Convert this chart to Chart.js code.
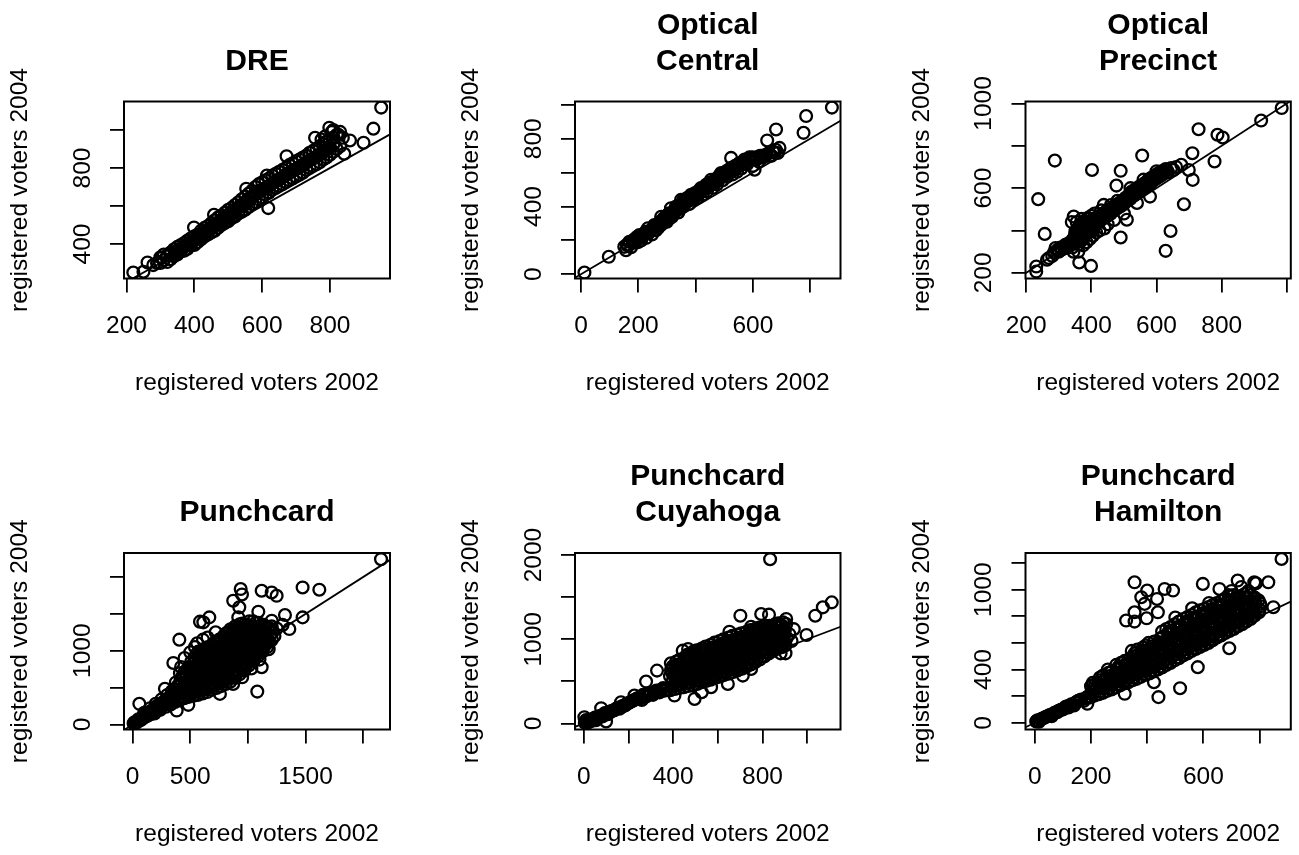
<!DOCTYPE html>
<html>
<head>
<meta charset="utf-8">
<script src="https://cdn.jsdelivr.net/npm/chart.js@4.4.1/dist/chart.umd.min.js"></script>
<style>
  body { margin: 0; background: #fff; width: 1299px; height: 855px; position: relative; overflow: hidden; }
  canvas { position: absolute; }
</style>
</head>
<body>
<script>
// Axis titles shared by all panels
const xAxisTitle = 'registered voters 2002';
const yAxisTitle = 'registered voters 2004';

// ---- DRE ----
const dreTitle = ['DRE'];
const dreXTicks = [200, 400, 600, 800];
const dreXLabels = [200, 400, 600, 800];
const dreYTicks = [400, 600, 800, 1000];
const dreYLabels = [400, 800];
const drePoints = [
  [220,250],[250,254],[262,303],[279,289],[290,300],[304,328],
  [300,300],[300,330],[310,315],[310,345],[320,305],[320,340],[330,320],[330,355],[330,345],
  [340,335],[340,372],[350,350],[350,385],[350,345],[360,360],[360,395],[370,365],[370,405],[370,385],
  [380,375],[380,418],[390,395],[390,430],[390,410],[400,395],[400,440],[400,420],[410,410],[410,450],
  [410,430],[420,425],[420,470],[420,445],[430,440],[430,485],[430,460],[440,450],[440,495],[440,470],
  [450,460],[450,510],[450,485],[460,470],[460,525],[460,495],[470,485],[470,540],[470,510],[480,500],
  [480,550],[480,525],[490,510],[490,565],[490,540],[500,520],[500,580],[500,550],[510,535],[510,590],
  [510,565],[520,545],[520,605],[520,575],[530,560],[530,620],[530,590],[540,570],[540,635],[540,600],
  [550,580],[550,650],[550,615],[560,595],[560,665],[560,630],[570,610],[570,680],[570,645],[580,620],
  [580,700],[580,660],[590,635],[590,715],[590,675],[600,645],[600,725],[600,685],[610,660],[610,735],
  [610,695],[620,670],[620,745],[620,705],[630,685],[630,760],[630,720],[640,695],[640,770],[640,730],
  [650,705],[650,780],[650,740],[660,715],[660,790],[660,750],[670,725],[670,800],[670,765],[680,735],
  [680,815],[680,775],[690,745],[690,825],[690,785],[700,755],[700,835],[700,795],[710,765],[710,845],
  [710,805],[720,775],[720,855],[720,815],[730,790],[730,865],[730,830],[740,800],[740,880],[740,840],
  [750,810],[750,890],[750,850],[760,820],[760,900],[760,860],[770,830],[770,915],[770,870],[780,845],
  [780,925],[780,885],[790,855],[790,940],[790,900],[800,870],[800,950],[800,910],[810,885],[810,960],
  [810,925],[820,900],[820,975],[830,915],[830,990],
  [345,360],[355,370],[365,380],[375,395],[385,405],[395,420],[405,430],[415,445],[425,455],[435,470],
  [445,480],[455,495],[465,505],[475,520],[485,530],[495,545],[505,560],[515,570],[525,585],[535,600],
  [545,610],[555,625],[565,640],[575,655],[585,668],[595,680],[605,690],[615,700],[625,712],[635,725],
  [645,735],[655,745],[665,758],[675,770],[685,780],[695,790],[705,800],[715,810],[725,822],[735,835],
  [745,845],[755,855],[765,865],[775,878],[785,890],[795,905],
  [399,487],[458,554],[553,691],[618,589],[614,760],[672,862],[756,959],[798,1012],[838,959],[842,875],
  [859,945],[899,933],[928,1007],[951,1118],[810,1000],[825,975],[805,990],[785,965],[775,950]
];

// ---- Optical Central ----
const centralTitle = ['Optical', 'Central'];
const centralXTicks = [0, 200, 400, 600, 800];
const centralXLabels = [0, 200, 600];
const centralYTicks = [0, 200, 400, 600, 800, 1000];
const centralYLabels = [0, 400, 800];
const centralPoints = [
  [12,10],[97,103],[151,162],[157,142],[160,175],[169,192],[175,160],[190,195],[198,210],[204,232],
  [210,200],[215,225],[222,240],[228,215],[233,271],[240,250],[248,235],[256,291],[262,260],[265,285],
  [270,275],[280,340],[285,300],[292,320],[295,335],[300,310],[305,355],[310,330],[314,390],[318,340],
  [325,370],[332,400],[335,380],[340,365],[345,410],[349,439],[355,400],[358,440],[362,425],[370,450],
  [372,430],[378,415],[384,469],[388,460],[390,440],[398,480],[402,465],[405,450],[412,495],[415,480],
  [419,509],[425,470],[428,500],[432,520],[440,490],[445,520],[448,540],[454,558],[458,530],[460,510],
  [468,560],[472,545],[475,530],[482,580],[488,570],[489,598],[495,555],[500,580],[502,600],[510,575],
  [515,600],[518,620],[524,627],[524,687],[530,590],[535,615],[538,640],[545,605],[552,655],[555,640],
  [560,625],[571,677],[575,660],[580,650],[588,690],[594,677],[600,640],[606,617],[612,690],[620,665],
  [630,700],[641,697],[650,790],[660,700],[670,725],[681,855],[687,716],[693,746],[777,835],[786,934],
  [876,984],
  [165,168],[180,185],[185,205],[195,220],[200,190],[208,215],[218,230],[225,250],[235,245],[244,262],
  [252,270],[258,280],[268,295],[275,310],[278,290],[288,330],[298,345],[302,325],[308,360],[312,345],
  [320,365],[328,385],[338,395],[342,390],[352,420],[360,410],[365,435],[375,440],[380,455],[392,470],
  [395,455],[408,485],[410,470],[422,500],[435,505],[438,530],[450,525],[462,545],[465,550],[478,565],
  [485,585],[492,590],[505,590],[508,610],[520,605],[528,630],[540,625],[548,645],[558,650],[565,665],
  [585,670],[598,690],[615,680],[625,700],[635,690],[645,705],[655,715],[665,700],[675,720],[680,735]
];

// ---- Optical Precinct ----
const precinctTitle = ['Optical', 'Precinct'];
const precinctXTicks = [200, 400, 600, 800, 1000];
const precinctXLabels = [200, 400, 600, 800];
const precinctYTicks = [200, 400, 600, 800, 1000];
const precinctYLabels = [200, 600, 1000];
const precinctPoints = [
  [231,206],[231,230],[237,548],[257,384],[264,262],[270,270],[280,280],[285,295],[288,730],[290,317],
  [295,305],[300,300],[305,320],[310,310],[315,325],[320,332],[325,318],[330,340],[335,330],[340,350],
  [342,320],[345,362],[346,466],[348,340],[350,380],[351,395],[355,355],[358,410],[360,335],[362,372],
  [363,249],[365,430],[368,350],[370,392],[372,420],[375,365],[378,445],[380,380],[383,405],[386,425],
  [390,390],[393,455],[396,410],[399,233],[400,430],[402,400],[402,686],[405,445],[410,420],[414,460],
  [418,435],[422,445],[426,470],[430,450],[435,480],[438,521],[440,460],[445,490],[450,470],[455,500],
  [460,480],[465,510],[470,495],[475,520],[477,612],[480,505],[485,530],[490,515],[490,682],[490,367],
  [495,540],[500,525],[505,555],[509,451],[510,540],[515,565],[519,577],[520,550],[525,585],[530,565],
  [535,595],[540,575],[545,605],[550,585],[555,615],[556,754],[560,600],[565,625],[570,610],[575,640],
  [580,620],[585,650],[590,635],[595,660],[600,645],[605,670],[610,655],[615,680],[620,665],[628,690],
  [628,304],[635,675],[643,398],[645,695],[652,686],[660,700],[676,710],[684,524],[699,686],[710,765],
  [711,639],[729,878],[778,726],[787,852],[803,839],[921,919],[984,978],
  [298,310],[308,315],[318,320],[328,335],[338,345],[344,355],[352,365],[356,385],[360,360],[364,400],
  [366,420],[370,375],[374,405],[377,390],[380,430],[382,395],[385,415],[388,440],[390,410],[392,425],
  [395,440],[398,420],[402,450],[406,430],[408,455],[412,440],[416,450],[420,455],[424,460],[428,465],
  [432,470],[438,475],[442,480],[448,485],[452,490],[458,495],[462,500],[468,505],[472,510],[478,515],
  [482,520],[488,525],[492,530],[498,535],[502,540],[508,545],[512,555],[518,560],[522,565],[528,575],
  [532,580],[538,585],[542,590],[548,595],[552,600],[558,610],[562,612],[568,620],[572,625],[578,630],
  [582,635],[588,640],[592,648],[598,652],[602,658],[608,662],[612,668],[618,672],[622,678],[632,685],
  [340,440],[345,300],[355,440],[360,300],[370,455],[375,330],[385,345],[390,460],[395,360],[400,470],
  [405,375],[410,480],[415,390],[425,400],[430,495],[440,410],[450,430],[460,520],[470,450],[480,540],
  [500,480],[520,600],[540,530],[560,640],[580,560],[600,680]
];

// ---- Punchcard ----
const punchTitle = ['Punchcard'];
const punchXTicks = [0, 500, 1000, 1500, 2000];
const punchXLabels = [0, 500, 1500];
const punchYTicks = [0, 500, 1000, 1500, 2000];
const punchYLabels = [0, 1000];
const punchPoints = [
  [8,12],[20,25],[30,20],[42,45],[55,50],[58,280],[65,75],[78,70],[90,100],[100,95],[115,130],[125,115],
  [140,150],[155,140],[170,190],[185,170],[200,215],[215,240],[230,200],[245,280],[260,250],[275,310],
  [280,483],[290,270],[305,350],[320,300],[335,390],[350,330],
  [15,30],[35,35],[50,70],[70,60],[85,85],[105,110],[120,140],[135,125],[150,175],[165,160],[180,205],
  [195,190],[210,250],[225,220],[240,260],[255,295],[270,285],[285,330],[300,310],[315,360],[330,340],
  [345,380],[360,350],[100,160],[150,220],[200,280],[250,340],[300,400],[340,450],[190,150],[240,200],
  [290,240],[330,270],
  [368,305],[372,390],[366,480],[375,570],
  [405,330],[412,420],[408,515],[415,605],[410,695],
  [448,355],[455,445],[450,535],[445,625],[452,715],
  [488,375],[494,465],[486,555],[492,645],[497,730],[490,780],
  [528,390],[534,475],[526,565],[532,655],[538,745],[530,830],[535,900],
  [565,400],[572,490],[568,580],[575,670],[566,760],[572,850],[578,940],[570,990],
  [608,420],[614,510],[606,600],[612,690],[618,780],[610,870],[615,955],[612,1020],
  [648,440],[655,530],[646,620],[652,710],[658,800],[650,890],[645,975],[652,1050],
  [688,470],[694,560],[686,650],[692,740],[698,830],[690,920],[695,1005],[690,1085],
  [728,495],[735,585],[726,675],[732,765],[738,855],[730,945],[725,1035],[732,1125],
  [768,520],[774,610],[766,700],[772,790],[778,880],[770,970],[765,1060],[772,1165],
  [808,550],[814,640],[806,730],[812,820],[818,910],[810,1000],[805,1090],[812,1180],[808,1235],
  [848,580],[854,670],[846,760],[852,850],[858,940],[850,1030],[845,1120],[852,1210],[848,1290],
  [888,630],[894,720],[886,810],[892,900],[898,990],[890,1080],[885,1170],[892,1260],[888,1330],
  [928,680],[934,770],[926,860],[932,950],[938,1040],[930,1130],[925,1220],[932,1300],[928,1360],
  [968,730],[974,820],[966,910],[972,1000],[978,1090],[970,1180],[965,1270],[972,1360],
  [1008,800],[1014,890],[1006,980],[1012,1070],[1018,1160],[1010,1250],[1005,1340],[1012,1400],
  [1048,860],[1054,950],[1046,1040],[1052,1130],[1058,1220],[1050,1310],[1045,1400],
  [1088,930],[1094,1020],[1086,1110],[1092,1200],[1098,1290],[1090,1380],
  [1128,990],[1134,1080],[1126,1170],[1132,1260],[1138,1350],
  [1168,1050],[1174,1140],[1166,1230],[1172,1320],
  [1208,1150],[1214,1250],[1206,1330],
  [390,350],[388,435],[392,525],
  [428,375],[432,470],[426,560],[430,650],
  [468,400],[472,490],[466,580],[470,670],[474,750],
  [508,420],[512,510],[506,600],[510,690],[514,775],[508,850],
  [548,440],[552,530],[546,620],[550,710],[554,800],[548,880],[552,950],
  [588,455],[592,545],[586,635],[590,725],[594,815],[588,905],[592,985],
  [628,475],[632,565],[626,655],[630,745],[634,835],[628,920],[632,1005],
  [668,500],[672,590],[666,680],[670,770],[674,860],[668,950],[672,1040],
  [708,525],[712,615],[706,705],[710,795],[714,885],[708,975],[712,1060],[710,1110],
  [748,555],[752,645],[746,735],[750,825],[754,915],[748,1005],[752,1095],[750,1150],
  [788,580],[792,670],[786,760],[790,850],[794,940],[788,1030],[792,1120],[790,1200],
  [828,615],[832,705],[826,795],[830,885],[834,975],[828,1065],[832,1155],[830,1250],
  [868,650],[872,740],[866,830],[870,920],[874,1010],[868,1100],[872,1190],[870,1280],
  [908,700],[912,790],[906,880],[910,970],[914,1060],[908,1150],[912,1240],[910,1320],
  [948,750],[952,840],[946,930],[950,1020],[954,1110],[948,1200],[952,1290],[950,1370],
  [988,810],[992,900],[986,990],[990,1080],[994,1170],[988,1260],[992,1350],
  [1028,880],[1032,970],[1026,1060],[1030,1150],[1034,1240],[1028,1330],
  [1068,940],[1072,1030],[1066,1120],[1070,1210],[1074,1300],[1068,1380],
  [1108,1000],[1112,1090],[1106,1180],[1110,1270],[1114,1350],
  [1148,1070],[1152,1160],[1146,1250],[1150,1330],
  [1188,1120],[1192,1210],[1186,1300],
  [2154,2241],[1474,1858],[1619,1827],[937,1836],[948,1763],[872,1678],[1119,1813],[1206,1790],[1249,1745],
  [1090,1529],[1321,1484],[1474,1452],[1359,1294],[1206,1407],[665,1452],[584,1394],[613,1385],[405,1150],
  [353,834],[1081,446],[1119,776],[757,415],[872,550],[382,189],[483,266],[916,1452],[925,1588],
  [500,980],[560,1100],[650,1180],[720,1250],[450,900],[420,780],[610,1150],[540,1050],
  [1180,1020],[1230,1200],[1250,1300],[1300,1350],[1100,880],[1030,760],[950,640]
];

// ---- Punchcard Cuyahoga ----
const cuyTitle = ['Punchcard', 'Cuyahoga'];
const cuyXTicks = [0, 200, 400, 600, 800, 1000];
const cuyXLabels = [0, 400, 800];
const cuyYTicks = [0, 500, 1000, 1500, 2000];
const cuyYLabels = [0, 1000, 2000];
const cuyPoints = [
  [5,10],[12,25],[20,15],[28,45],[35,30],[45,60],[3,75],[55,40],[65,80],[78,182],[80,95],[90,110],
  [100,24],[100,120],[115,135],[125,150],[140,165],[155,190],[167,253],[175,210],[190,230],[205,250],
  [220,270],[227,332],[235,290],[250,310],[260,280],[265,340],[279,498],[280,320],[295,360],[310,340],
  [328,628],[325,390],[340,370],[355,420],[370,400],[391,628],
  [10,40],[25,20],[40,50],[50,70],[60,55],[70,90],[85,85],[95,125],[108,110],[120,140],[135,155],
  [148,180],[160,175],[172,200],[185,215],[198,240],[212,260],[225,280],[240,300],[255,300],[270,330],
  [285,345],[300,350],[315,370],[330,380],[345,400],[360,390],[375,410],
  [388,395],[394,480],[386,560],[392,640],[390,715],
  [428,420],[434,505],[426,590],[432,675],[430,760],
  [468,445],[474,530],[466,615],[472,700],[470,785],[465,820],
  [508,470],[514,555],[506,640],[512,725],[510,810],[505,870],
  [548,505],[554,590],[546,675],[552,760],[550,845],[545,915],
  [588,540],[594,625],[586,710],[592,795],[590,880],[585,960],
  [628,575],[634,660],[626,745],[632,830],[630,915],[625,1000],
  [668,610],[674,695],[666,780],[672,865],[670,950],[665,1040],
  [708,650],[714,735],[706,820],[712,905],[710,990],[705,1070],
  [748,700],[754,785],[746,870],[752,955],[750,1040],[745,1110],
  [788,760],[794,845],[786,930],[792,1015],[790,1100],[785,1140],
  [828,830],[834,915],[826,1000],[832,1085],[830,1160],
  [868,890],[874,975],[866,1060],[872,1145],[870,1190],
  [903,930],[908,1015],[900,1100],[906,1180],
  [408,410],[412,495],[406,575],[410,660],[414,735],
  [448,430],[452,515],[446,600],[450,690],[454,775],
  [488,455],[492,540],[486,625],[490,710],[494,795],[488,850],
  [528,490],[532,575],[526,660],[530,745],[534,830],[528,890],
  [568,520],[572,605],[566,690],[570,775],[574,860],[568,935],
  [608,555],[612,640],[606,725],[610,810],[614,895],[608,980],
  [648,590],[652,675],[646,760],[650,845],[654,930],[648,1020],
  [688,630],[692,715],[686,800],[690,885],[694,970],[688,1055],
  [728,675],[732,760],[726,845],[730,930],[734,1015],[728,1090],
  [768,730],[772,815],[766,900],[770,985],[774,1070],[768,1125],
  [808,795],[812,880],[806,965],[810,1050],[814,1135],[808,1160],
  [848,860],[852,945],[846,1030],[850,1115],[854,1175],
  [886,905],[890,990],[884,1075],[888,1160],[892,1200],
  [398,437],[400,520],[396,600],[399,680],
  [438,462],[440,548],[436,632],[439,718],
  [478,487],[480,573],[476,657],[479,743],[477,810],
  [518,512],[520,598],[516,683],[519,768],[517,850],
  [558,547],[560,633],[556,718],[559,803],[557,885],
  [598,582],[600,668],[596,753],[599,838],[597,920],
  [638,617],[640,703],[636,788],[639,873],[637,958],
  [678,652],[680,738],[676,823],[679,908],[677,995],
  [718,692],[720,778],[716,863],[719,948],[717,1030],
  [758,742],[760,828],[756,913],[759,998],[757,1080],
  [798,800],[800,888],[796,973],[799,1058],[797,1130],
  [838,868],[840,953],[836,1038],[839,1123],
  [878,920],[880,1005],[876,1090],[879,1170],
  [418,455],[420,540],[416,620],[419,700],
  [458,480],[460,565],[456,645],[459,730],[457,800],
  [498,505],[500,590],[496,670],[499,755],[497,830],
  [538,535],[540,620],[536,705],[539,790],[537,870],
  [578,570],[580,655],[576,740],[579,825],[577,905],
  [618,605],[620,690],[616,775],[619,860],[617,945],
  [658,640],[660,725],[656,810],[659,895],[657,985],
  [698,680],[700,765],[696,850],[699,935],[697,1020],
  [738,725],[740,810],[736,895],[739,980],[737,1065],
  [778,785],[780,870],[776,955],[779,1040],[777,1115],
  [818,850],[820,935],[816,1020],[819,1105],
  [858,895],[860,980],[856,1065],[859,1150],
  [895,950],[897,1040],[893,1120],
  [834,1951],[1110,1438],[1070,1379],[1036,1280],[997,1051],[701,1280],[794,1300],[829,1292],[906,1241],
  [749,1149],[652,1090],[443,865],[467,885],[881,833],[903,833],[406,332],[496,292],[528,371],[570,431],
  [645,470],[712,569],[749,648],[920,1060],[940,1120],[930,980]
];

// ---- Punchcard Hamilton ----
const hamTitle = ['Punchcard', 'Hamilton'];
const hamXTicks = [0, 200, 400, 600, 800];
const hamXLabels = [0, 200, 600];
const hamYTicks = [0, 200, 400, 600, 800, 1000, 1200];
const hamYLabels = [0, 400, 1000];
const hamPoints = [
  [5,10],[10,20],[15,8],[20,25],[30,35],[40,45],[50,55],[60,50],[70,75],[80,80],[90,95],[100,100],
  [110,120],[120,115],[130,140],[140,130],[150,160],[160,170],[175,165],[187,143],[190,200],
  [8,15],[25,30],[35,40],[45,50],[55,60],[65,65],[75,80],[85,90],[95,100],[105,110],[115,125],
  [125,130],[135,140],[145,150],[155,165],[165,175],[180,185],
  [198,190],[204,230],[200,275],[206,300],
  [228,215],[234,260],[226,300],[232,340],
  [258,240],[264,285],[256,330],[262,375],
  [288,265],[294,310],[286,355],[292,400],[290,435],
  [318,295],[324,340],[316,385],[322,430],[320,465],
  [348,320],[354,365],[346,410],[352,455],[350,500],[345,540],
  [378,345],[384,390],[376,435],[382,480],[380,525],[385,565],
  [408,370],[414,415],[406,460],[412,505],[410,550],[405,600],
  [438,400],[444,445],[436,490],[442,535],[440,580],[445,630],
  [468,435],[474,480],[466,525],[472,570],[470,615],[475,665],[468,705],
  [498,470],[504,515],[496,560],[502,605],[500,650],[505,700],[498,740],
  [528,505],[534,550],[526,595],[532,640],[530,685],[535,735],[528,780],
  [558,540],[564,585],[556,630],[562,675],[560,720],[565,770],[558,810],
  [588,570],[594,615],[586,660],[592,705],[590,750],[595,800],[588,845],
  [618,600],[624,645],[616,690],[622,735],[620,780],[625,830],[618,870],
  [648,640],[654,685],[646,730],[652,775],[650,820],[655,865],[648,900],
  [678,675],[684,720],[676,765],[682,810],[680,855],[685,900],[678,935],
  [708,705],[714,750],[706,795],[712,840],[710,885],[715,930],[708,960],
  [738,740],[744,785],[736,830],[742,875],[740,920],[745,965],
  [768,780],[774,825],[766,870],[772,915],[770,960],
  [798,830],[804,875],[796,920],
  [213,205],[217,250],[215,290],
  [243,225],[247,270],[245,315],[243,355],
  [273,250],[277,295],[275,340],[273,385],
  [303,280],[307,325],[305,370],[303,415],[307,450],
  [333,305],[337,350],[335,395],[333,440],[337,480],
  [363,330],[367,375],[365,420],[363,465],[367,510],[365,550],
  [393,360],[397,405],[395,450],[393,495],[397,540],[395,580],
  [423,385],[427,430],[425,475],[423,520],[427,565],[425,610],
  [453,415],[457,460],[455,505],[453,550],[457,595],[455,645],[453,685],
  [483,450],[487,495],[485,540],[483,585],[487,630],[485,680],[483,720],
  [513,485],[517,530],[515,575],[513,620],[517,665],[515,715],[513,760],
  [543,520],[547,565],[545,610],[543,655],[547,700],[545,750],[543,795],
  [573,555],[577,600],[575,645],[573,690],[577,735],[575,785],[573,830],
  [603,585],[607,630],[605,675],[603,720],[607,765],[605,815],[603,855],
  [633,620],[637,665],[635,710],[633,755],[637,800],[635,850],[633,885],
  [663,655],[667,700],[665,745],[663,790],[667,835],[665,880],[663,915],
  [693,690],[697,735],[695,780],[693,825],[697,870],[695,915],[693,950],
  [723,725],[727,770],[725,815],[723,860],[727,905],[725,950],
  [753,760],[757,805],[755,850],[753,895],[757,940],[755,975],
  [783,805],[787,850],[785,895],[783,940],
  [205,212],[207,255],
  [235,238],[237,282],[235,322],
  [265,262],[267,308],[265,352],
  [295,288],[297,332],[295,378],[297,418],
  [325,318],[327,362],[325,408],[327,448],
  [355,342],[357,388],[355,432],[357,478],[355,520],
  [385,368],[387,412],[385,458],[387,502],[385,545],
  [415,392],[417,438],[415,482],[417,528],[415,575],
  [445,422],[447,468],[445,512],[447,558],[445,605],
  [475,458],[477,502],[475,548],[477,592],[475,640],[477,685],
  [505,492],[507,538],[505,582],[507,628],[505,675],[507,720],
  [535,528],[537,572],[535,618],[537,662],[535,710],[537,758],
  [565,562],[567,608],[565,652],[567,698],[565,745],[567,790],
  [595,592],[597,638],[595,682],[597,728],[595,775],[597,822],
  [625,628],[627,672],[625,718],[627,762],[625,808],[627,850],
  [655,662],[657,708],[655,752],[657,798],[655,842],[657,885],
  [685,698],[687,742],[685,788],[687,832],[685,878],[687,918],
  [715,728],[717,772],[715,818],[717,862],[715,905],[717,945],
  [745,765],[747,808],[745,852],[747,898],[745,940],
  [775,800],[777,845],[775,890],[777,935],
  [800,850],[802,895],
  [878,1230],[355,1055],[400,993],[379,943],[462,1005],[492,993],[435,930],[391,893],[438,830],[355,830],
  [398,785],[325,768],[355,760],[598,1043],[657,1005],[722,1068],[781,1055],[831,1055],[787,1048],[849,868],
  [692,560],[580,418],[517,260],[440,193],[424,305],[320,218],[260,400],[204,280],[735,1020],[760,990],
  [700,990],[690,960],[620,900],[560,860],[500,790]
];

// Panel layout: plot box [left, top, right, bottom] in page pixels, canvas origin
const panels = [
  { title: dreTitle, points: drePoints, xRange: [192.6, 977], yRange: [218.5, 1150],
    xTicks: dreXTicks, xLabels: dreXLabels, yTicks: dreYTicks, yLabels: dreYLabels,
    box: [124, 101.5, 390, 278.5], origin: [0, 0] },
  { title: centralTitle, points: centralPoints, xRange: [-21, 906], yRange: [-25, 1020],
    xTicks: centralXTicks, xLabels: centralXLabels, yTicks: centralYTicks, yLabels: centralYLabels,
    box: [575, 101.5, 840.5, 278.5], origin: [433, 0] },
  { title: precinctTitle, points: precinctPoints, xRange: [198, 1012], yRange: [173.5, 1009],
    xTicks: precinctXTicks, xLabels: precinctXLabels, yTicks: precinctYTicks, yLabels: precinctYLabels,
    box: [1025.5, 101.5, 1291.5, 278.5], origin: [866, 0] },
  { title: punchTitle, points: punchPoints, xRange: [-75, 2232], yRange: [-68, 2325],
    xTicks: punchXTicks, xLabels: punchXLabels, yTicks: punchYTicks, yLabels: punchYLabels,
    box: [124, 553, 390, 729.5], origin: [0, 427] },
  { title: cuyTitle, points: cuyPoints, xRange: [-39, 1149], yRange: [-71, 2024],
    xTicks: cuyXTicks, xLabels: cuyXLabels, yTicks: cuyYTicks, yLabels: cuyYLabels,
    box: [575, 553, 840.5, 729.5], origin: [433, 427] },
  { title: hamTitle, points: hamPoints, xRange: [-33, 911], yRange: [-50, 1275],
    xTicks: hamXTicks, xLabels: hamXLabels, yTicks: hamYTicks, yLabels: hamYLabels,
    box: [1025.5, 553, 1291.5, 729.5], origin: [866, 427] }
];

const CANVAS_W = 433, CANVAS_H = 428;
const FONT = '"Liberation Sans", Arial, Helvetica, sans-serif';

// Draws the R-style box, tick labels, axis titles and main title
const rDecor = {
  id: 'rDecor',
  afterDraw(chart, args, opts) {
    const ctx = chart.ctx;
    const a = chart.chartArea;
    const xs = chart.scales.x, ys = chart.scales.y;
    const cx = (a.left + a.right) / 2, cy = (a.top + a.bottom) / 2;
    ctx.save();
    ctx.strokeStyle = '#000';
    ctx.lineWidth = 2;
    ctx.strokeRect(a.left, a.top, a.right - a.left, a.bottom - a.top);

    ctx.fillStyle = '#000';
    ctx.font = '24.5px ' + FONT;
    ctx.textAlign = 'center';
    ctx.textBaseline = 'alphabetic';
    opts.xLabels.forEach(v => ctx.fillText(String(v), xs.getPixelForValue(v), a.bottom + 54.5));
    ctx.fillText(opts.xTitle, cx, a.bottom + 111.5);

    opts.yLabels.forEach(v => {
      ctx.save();
      ctx.translate(a.left - 34.5, ys.getPixelForValue(v));
      ctx.rotate(-Math.PI / 2);
      ctx.fillText(String(v), 0, 0);
      ctx.restore();
    });
    ctx.save();
    ctx.translate(a.left - 97, cy);
    ctx.rotate(-Math.PI / 2);
    ctx.fillText(opts.yTitle, 0, 0);
    ctx.restore();

    ctx.font = 'bold 30px ' + FONT;
    const n = opts.title.length;
    opts.title.forEach((t, i) => ctx.fillText(t, cx, a.top - 32 - (n - 1 - i) * 36));
    ctx.restore();
  }
};

panels.forEach(p => {
  const canvas = document.createElement('canvas');
  canvas.width = CANVAS_W;
  canvas.height = CANVAS_H;
  canvas.style.left = p.origin[0] + 'px';
  canvas.style.top = p.origin[1] + 'px';
  document.body.appendChild(canvas);

  const [L, T, R, B] = p.box;
  const [ox, oy] = p.origin;

  new Chart(canvas.getContext('2d'), {
    type: 'scatter',
    data: {
      datasets: [
        {
          type: 'line',
          data: [{ x: p.xRange[0], y: p.xRange[0] }, { x: p.xRange[1], y: p.xRange[1] }],
          borderColor: '#000',
          borderWidth: 1.8,
          pointRadius: 0,
          fill: false
        },
        {
          data: p.points.map(([x, y]) => ({ x, y })),
          pointStyle: 'circle',
          pointRadius: 5.9,
          pointBorderWidth: 2.3,
          borderColor: '#000',
          backgroundColor: 'rgba(0,0,0,0)'
        }
      ]
    },
    options: {
      responsive: false,
      devicePixelRatio: 1,
      animation: false,
      layout: {
        padding: { left: L - ox, top: T - oy, right: ox + CANVAS_W - R, bottom: oy + CANVAS_H - B }
      },
      scales: {
        x: {
          type: 'linear',
          min: p.xRange[0],
          max: p.xRange[1],
          afterBuildTicks: s => { s.ticks = p.xTicks.map(v => ({ value: v })); },
          afterFit: s => { s.height = 0; },
          ticks: { display: false },
          border: { display: false },
          grid: { drawOnChartArea: false, drawTicks: true, tickLength: 14, color: '#000', lineWidth: 1.8 }
        },
        y: {
          type: 'linear',
          min: p.yRange[0],
          max: p.yRange[1],
          afterBuildTicks: s => { s.ticks = p.yTicks.map(v => ({ value: v })); },
          afterFit: s => { s.width = 0; },
          ticks: { display: false },
          border: { display: false },
          grid: { drawOnChartArea: false, drawTicks: true, tickLength: 14, color: '#000', lineWidth: 1.8 }
        }
      },
      plugins: {
        legend: { display: false },
        tooltip: { enabled: false },
        rDecor: {
          title: p.title,
          xLabels: p.xLabels,
          yLabels: p.yLabels,
          xTitle: xAxisTitle,
          yTitle: yAxisTitle
        }
      }
    },
    plugins: [rDecor]
  });
});
</script>
</body>
</html>
